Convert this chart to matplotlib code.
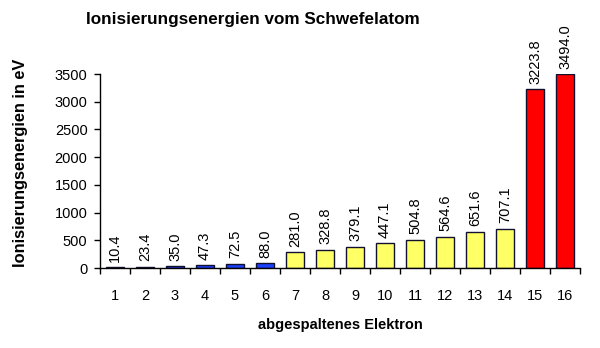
import matplotlib
matplotlib.use("Agg")
import matplotlib.pyplot as plt
from matplotlib.ticker import FixedLocator

plt.rcParams['font.family'] = ['Liberation Sans', 'DejaVu Sans']

electrons = list(range(1, 17))
energies = [10.4, 23.4, 35.0, 47.3, 72.5, 88.0, 281.0, 328.8, 379.1, 447.1,
            504.8, 564.6, 651.6, 707.1, 3223.8, 3494.0]
colors = ['#1a40ff'] * 6 + ['#ffff66'] * 8 + ['#ff0000'] * 2
yticks = [0, 500, 1000, 1500, 2000, 2500, 3000, 3500]

fig = plt.figure(figsize=(6.0, 3.48), dpi=100)
ax = fig.add_axes([100/600, 80/348, 480/600, (268-74)/348])

bars = ax.bar(electrons, energies, width=0.6, color=colors,
              edgecolor='#101030', linewidth=1.0)
for x, v in zip(electrons, energies):
    ax.annotate(f"{v:.1f}", (x, v), xytext=(0, 4), textcoords='offset points',
                rotation=90, ha='center', va='bottom', fontsize=10.5,
                annotation_clip=False)

ax.set_xlim(0.5, 16.5)
ax.set_ylim(0, 3500)
ax.set_yticks(yticks)
ax.set_xticks(electrons)
ax.xaxis.set_minor_locator(FixedLocator([i + 0.5 for i in range(0, 17)]))
ax.tick_params(axis='x', which='major', length=0, pad=15, labelsize=10.5)
ax.tick_params(axis='x', which='minor', length=4, direction='out', width=1)
ax.tick_params(axis='y', length=4, direction='out', width=1, labelsize=10.5, pad=5)
for s in ['top', 'right']:
    ax.spines[s].set_visible(False)
for s in ['left', 'bottom']:
    ax.spines[s].set_linewidth(1.0)

ax.set_xlabel('abgespaltenes Elektron', fontsize=10.5, fontweight='bold', labelpad=11)
ax.set_ylabel('Ionisierungsenergien in eV', fontsize=11.8, fontweight='bold')
ax.yaxis.set_label_coords(-0.15, 0.54)
fig.text(0.422, 0.945, 'Ionisierungsenergien vom Schwefelatom', ha='center', va='center',
         fontsize=12.3, fontweight='bold')

fig.savefig('out.png', dpi=100)
